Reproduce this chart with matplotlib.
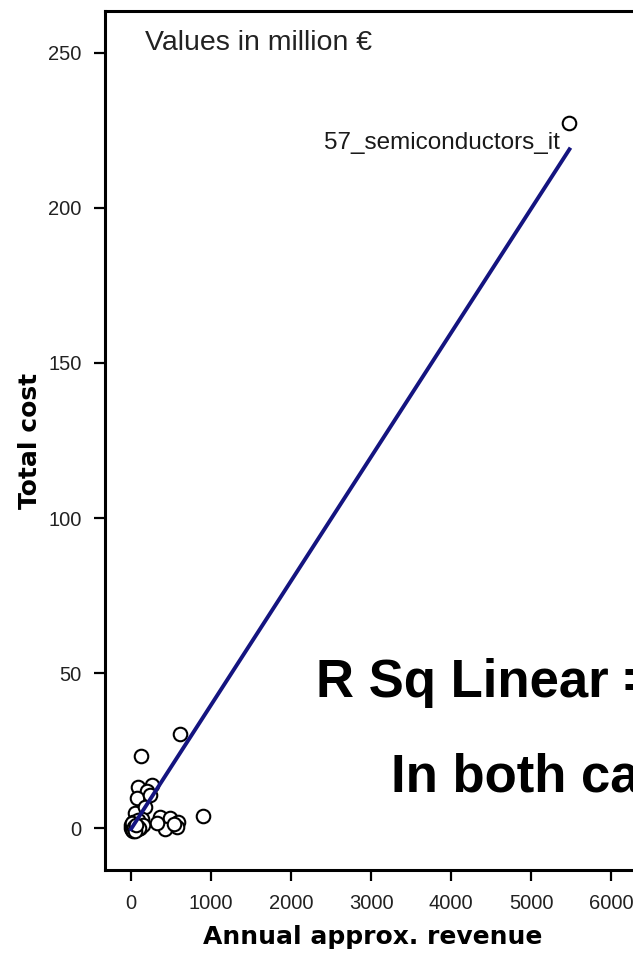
import matplotlib
matplotlib.use("Agg")
import matplotlib.pyplot as plt
import numpy as np

# (values in million EUR)
revenue = [5480, 612, 129, 900, 91, 259, 200, 71, 237, 50, 175, 362, 487, 591, 425,
           571, 321, 540, 120, 20, 40, 60, 80, 100, 10, 30, 110, 5, 70, 140, 90, 150,
           15, 35, 55, 25, 45, 65, 85, 0, 12, 28, 42, 58, 75, 95, 18, 38, 52, 68]
cost = [227.5, 30.3, 23.2, 3.9, 13.3, 13.9, 12.0, 9.6, 10.6, 4.8, 6.9, 3.6, 3.2, 2.0, -0.3,
        0.4, 1.6, 1.2, 1.5, 0.3, 0.8, 0.1, 1.4, 0.5, -0.2, 2.0, 0.2, 0.9, -0.4, 3.0, 2.5, 1.0,
        -0.6, -0.1, 0.6, 1.1, -0.5, 0.2, -0.3, 0.0, 0.4, -0.8, 1.3, -0.4, 0.7, 0.0, 1.6, 0.3, -0.9, 1.0]
labelled_case = "57_semiconductors_it"
fit_slope = 0.0400
fit_intercept = -0.3

x_ticks = [0, 1000, 2000, 3000, 4000, 5000, 6000]
y_ticks = [0, 50, 100, 150, 200, 250]

W, H = 633, 957
fig = plt.figure(figsize=(W / 100, H / 100), dpi=100)

# axes box in pixels: left 105, top 11, bottom 870, right 640 (slightly off the picture)
left, top, bottom, right = 105, 11, 870, 640
ax = fig.add_axes([left / W, 1 - bottom / H, (right - left) / W, (bottom - top) / H])
ax.set_xlim(-325, 6362)
ax.set_ylim(-13.5, 263.5)

for s in ax.spines.values():
    s.set_linewidth(2.2)
    s.set_color("black")

ax.scatter(revenue, cost, s=95, facecolors="white", edgecolors="black", linewidths=1.5, zorder=3)

xs = np.array([min(revenue), max(revenue)])
ax.plot(xs, fit_slope * xs + fit_intercept, color="#141480", linewidth=2.8, zorder=4)

ax.annotate(labelled_case, (revenue[0], cost[0]), xytext=(-10, -20), textcoords="offset pixels",
            ha="right", va="center", fontsize=17.5, family="Liberation Sans", color="#1a1a1a")

ax.set_xticks(x_ticks)
ax.set_yticks(y_ticks)
ax.tick_params(direction="out", length=8, width=1.6, pad=9, labelsize=14.5)
for lab in ax.get_xticklabels() + ax.get_yticklabels():
    lab.set_family("Liberation Sans")
    lab.set_color("#222222")

ax.set_xlabel("Annual approx. revenue", fontsize=18, fontweight="bold", family="DejaVu Sans", labelpad=9)
ax.set_ylabel("Total cost", fontsize=18, fontweight="bold", family="DejaVu Sans", labelpad=4)

fig.text(145 / W, 1 - 43 / H, "Values in million €", fontsize=20.5, family="Liberation Sans",
         color="#222222", va="center", ha="left")

fig.text(316 / W, 1 - 683 / H, "R Sq Linear =", fontsize=38, fontweight="bold",
         family="Liberation Sans", va="center", ha="left")
fig.text(391 / W, 1 - 778 / H, "In both cases", fontsize=38, fontweight="bold",
         family="Liberation Sans", va="center", ha="left")

fig.savefig("out.png", dpi=100)
